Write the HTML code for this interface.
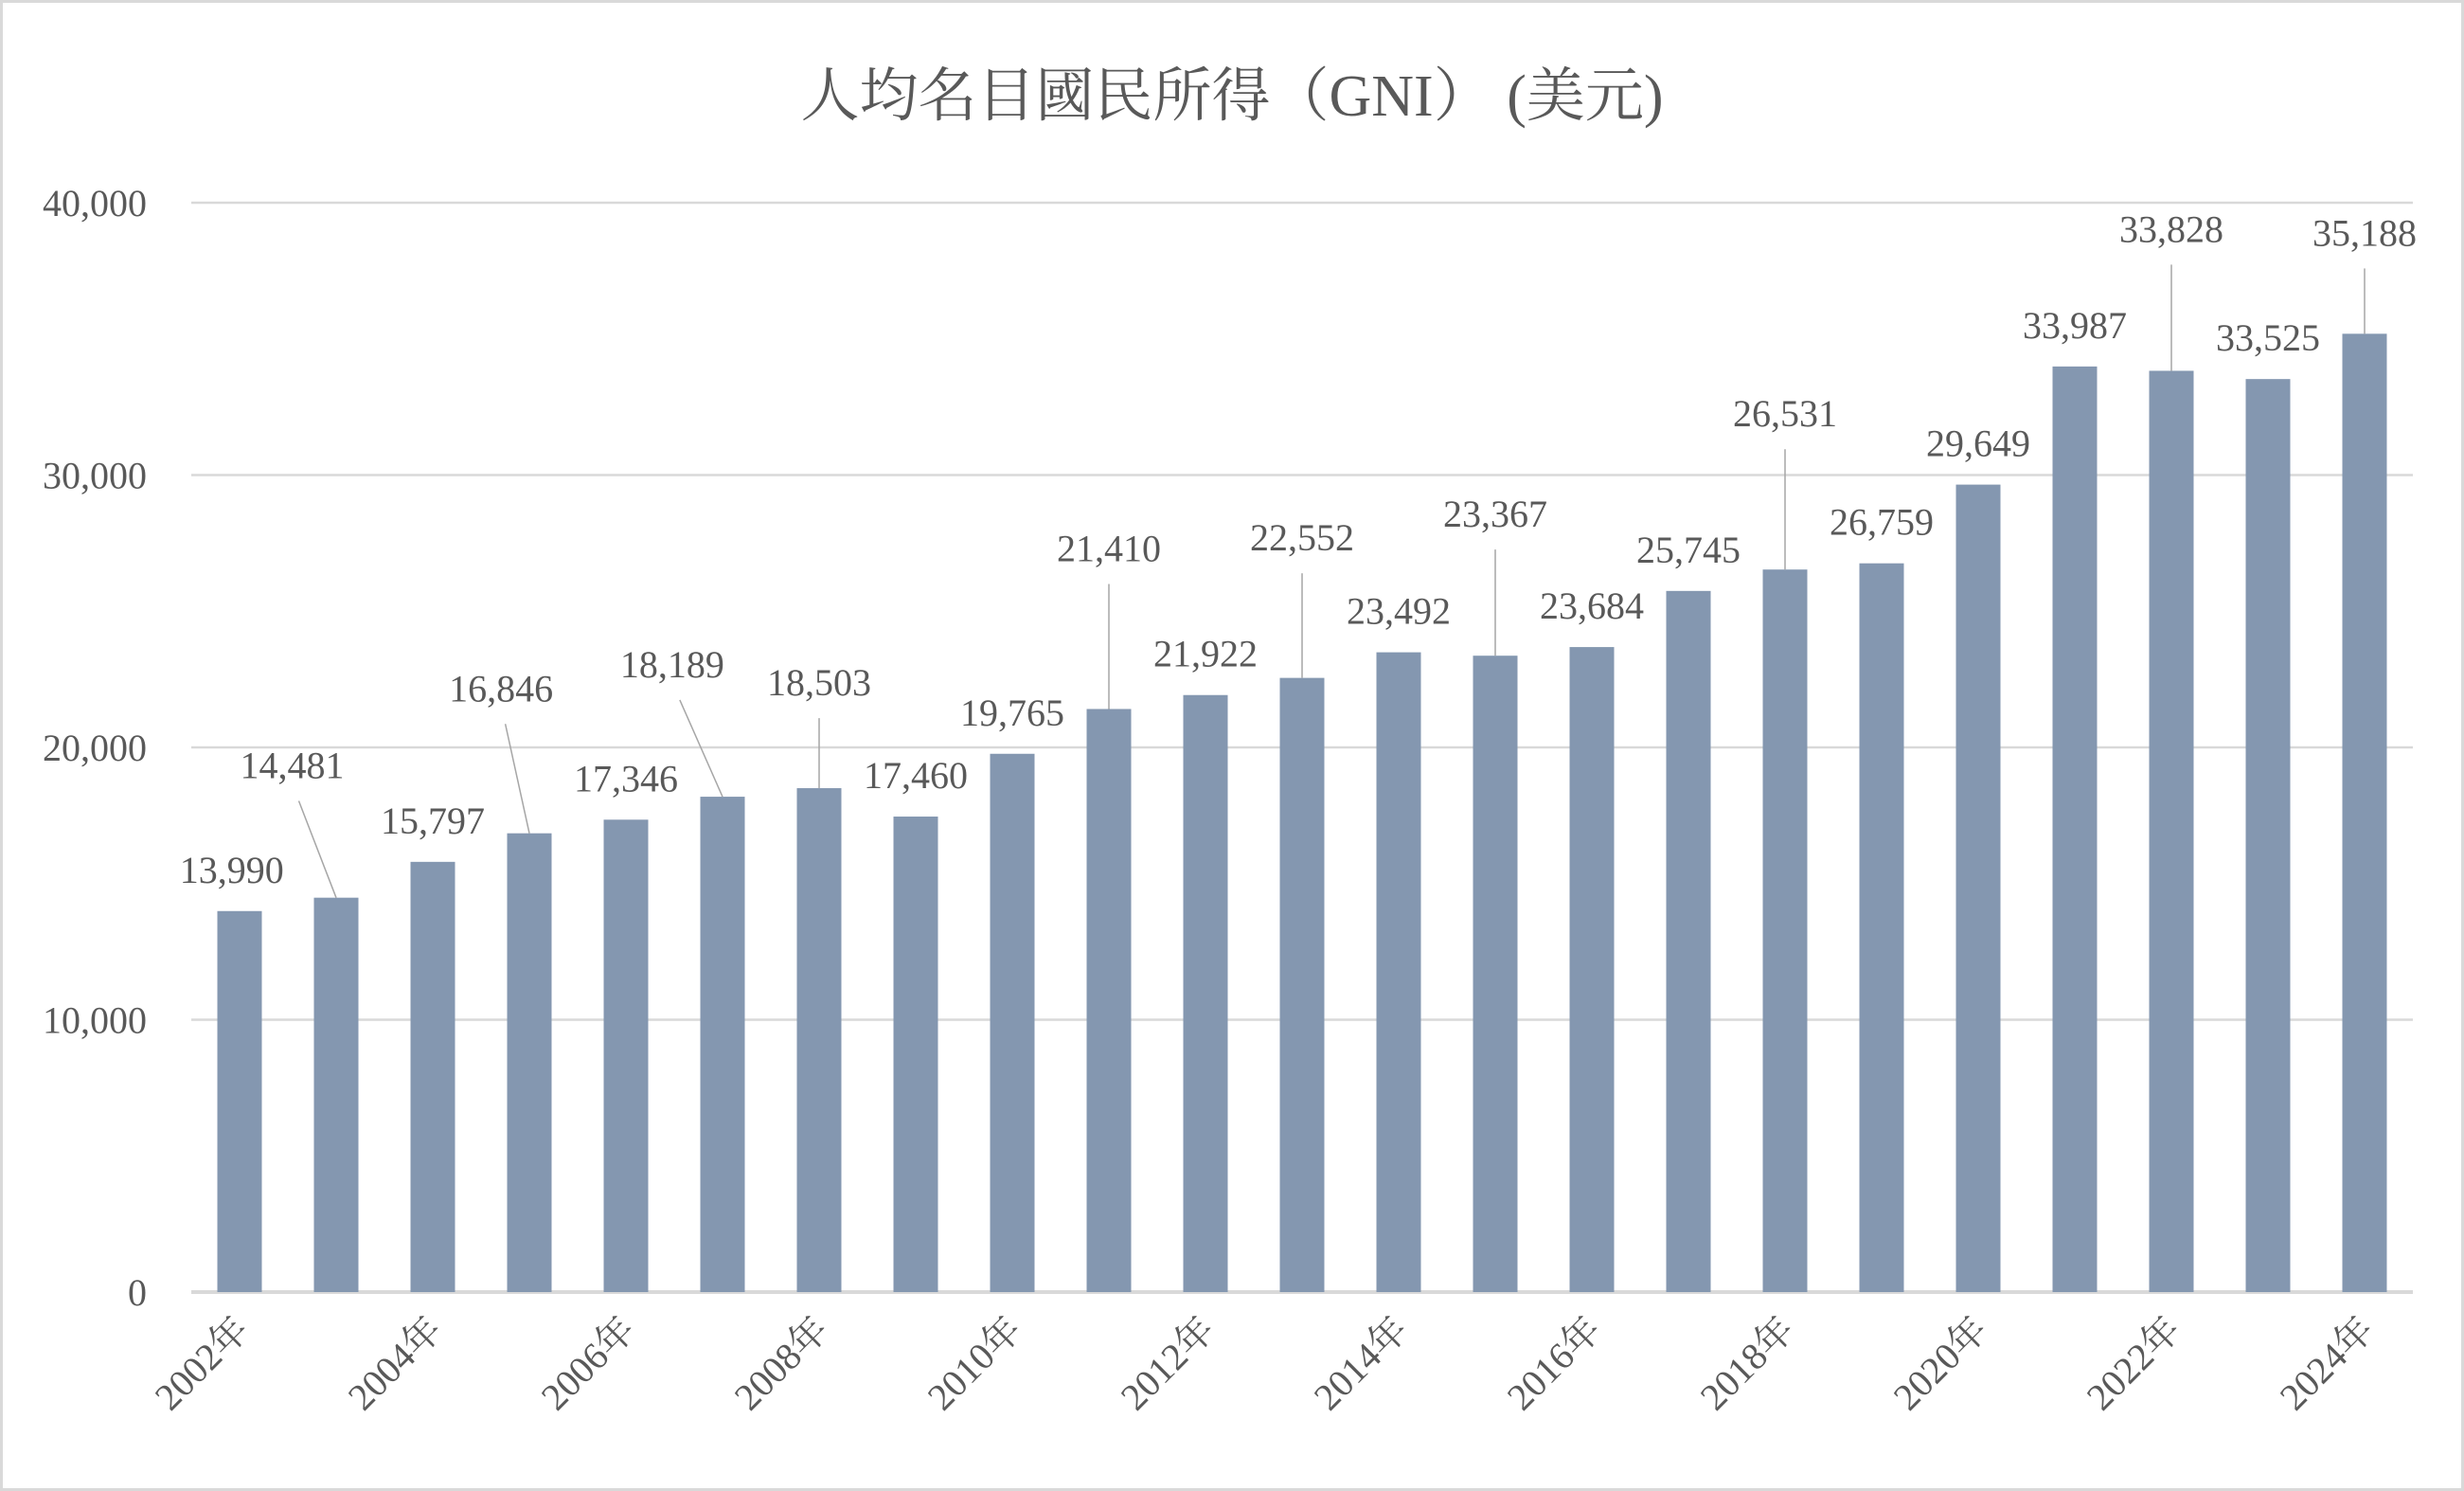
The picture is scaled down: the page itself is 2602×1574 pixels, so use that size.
<!DOCTYPE html>
<html><head><meta charset="utf-8">
<style>
html,body{margin:0;padding:0;background:#fff;}
svg{display:block;}
text{font-family:"Liberation Serif","Noto Serif CJK SC","Noto Sans CJK TC",serif;fill:#595959;}
</style></head>
<body>
<svg id="chart" width="2602" height="1574" viewBox="0 0 2602 1574" xmlns="http://www.w3.org/2000/svg">
<rect x="1.5" y="1.5" width="2599" height="1571" fill="#fff" stroke="#d9d9d9" stroke-width="3"/>
<text x="1301" y="122" font-size="62" text-anchor="middle">人均名目國民所得（GNI） (美元)</text>
<g id="grid"></g><g id="bars"></g><g id="labels"></g><g id="xlabels"></g>
</svg>
<script>
const years = ["2002年","2003年","2004年","2005年","2006年","2007年","2008年","2009年","2010年","2011年","2012年","2013年","2014年","2015年","2016年","2017年","2018年","2019年","2020年","2021年","2022年","2023年","2024年"];
const values = [13990,14481,15797,16846,17346,18189,18503,17460,19765,21410,21922,22552,23492,23367,23684,25745,26531,26759,29649,33987,33828,33525,35188];
const yTicks = [0,10000,20000,30000,40000];
const yTickLabels = ["0","10,000","20,000","30,000","40,000"];
// label placement layout (display offsets): [dx, dy-above-bar-top or null]
const labelPos = [[-5,0],[34,70],[0,0],[55,78],[0,0],[40,70],[56,53],[0,0],[0,0],[72,88],[0,0],[65,75],[0,0],[92,76],[0,0],[0,0],[103,85],[0,0],[0,0],[0,0],[149,76],[0,0],[90,50]];
const NS="http://www.w3.org/2000/svg";
const x0=202,x1=2548,yBase=1364,yTop=214,vMax=40000;
const step=(x1-x0)/values.length, bw=47;
const S=1.659;
function yS(v){return yBase-(v/vMax)*(yBase-yTop);}
function xC(i){return x0+step*(i+0.5);}
function mk(tag,attrs,parent){const e=document.createElementNS(NS,tag);for(const k in attrs)e.setAttribute(k,attrs[k]);parent.appendChild(e);return e;}
const grid=document.getElementById('grid');
yTicks.forEach((t,i)=>{
  const l=mk('line',{x1:x0,x2:x1,y1:yS(t),y2:yS(t),stroke:'#d9d9d9','stroke-width':t===0?4:2.5},grid);
  
  
  const tx=mk('text',{x:155,y:yS(t)+14,'font-size':40,'text-anchor':'end'},grid);
  tx.textContent=yTickLabels[i];
  
  
});
const bars=document.getElementById('bars'),labels=document.getElementById('labels'),xl=document.getElementById('xlabels');
values.forEach((v,i)=>{
  const cx=xC(i),top=yS(v);
  const r=mk('rect',{x:cx-bw/2,y:top,width:bw,height:yBase-top,fill:'#8497b0'},bars);
  
  
  const p=labelPos[i];
  let lx=cx+p[0]*(p[1]?0:1), ly;
  if(p[1]){ // leader label
    lx=cx-p[0]*0+ (i===0?0:0);
    lx=cx+(p[0]-56)*0;
    ly=top-p[1]*S;
    const offx=[0,-28,0,-18,0,-32,0,0,0,0,0,0,0,0,0,0,0,0,0,0,0,0,0][i]*S;
    lx=cx+offx;
    const ln=mk('line',{x1:lx+ (offx? -offx*0.15:0),y1:ly+14,x2:cx,y2:top,stroke:'#a6a6a6','stroke-width':1.5},labels);
    
    
    ly=ly-10;
  } else {
    lx=cx+p[0]*S;
    ly=top-30;
  }
  const t=mk('text',{x:lx,y:ly,'font-size':40,'text-anchor':'middle'},labels);
  t.textContent=v.toLocaleString('en-US');
  
  
  if(i%2===0){
    const xt=mk('text',{x:0,y:0,'font-size':40,'text-anchor':'end',transform:`translate(${cx+12},${yBase+42}) rotate(-45)`},xl);
    xt.textContent=years[i];
    
    
  }
});
</script>
</body></html>
